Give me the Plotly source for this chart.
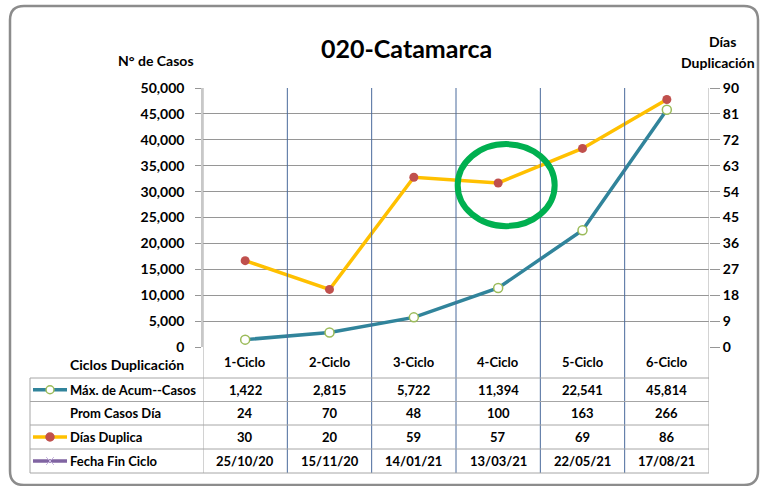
import plotly.graph_objects as go

# ── Data ─────────────────────────────────────────────────────────────────────
ciclos        = ["1-Ciclo", "2-Ciclo", "3-Ciclo", "4-Ciclo", "5-Ciclo", "6-Ciclo"]
max_casos     = [1422, 2815, 5722, 11394, 22541, 45814]
prom_casos    = [24, 70, 48, 100, 163, 266]
dias_duplica  = [30, 20, 59, 57, 69, 86]
fecha_fin     = ["25/10/20", "15/11/20", "14/01/21", "13/03/21", "22/05/21", "17/08/21"]

left_ticks  = list(range(0, 50001, 5000))
right_ticks = list(range(0, 91, 9))

# ── Style ────────────────────────────────────────────────────────────────────
TEAL   = "#31849B"
ORANGE = "#FFC000"
RED    = "#C0504D"
GREEN  = "#9BBB59"
PURPLE = "#8064A2"
GRID   = "#969696"
VGRID  = "#4a6a9c"
TABLE  = "#a6a6a6"
FONT   = "Lato"

# plot area in pixels (760 x 486 page)
L, R, T, B = 203, 709, 88, 347
W, H = R - L, B - T


def px(x):
    return (x - L) / W


def py(y):
    return (B - y) / H


def text(s, x, y, size=13, xanchor="center", xref="paper"):
    return dict(text=f"<b>{s}</b>", xref=xref, yref="paper", x=x, y=y,
                xanchor=xanchor, yanchor="middle", showarrow=False,
                font=dict(size=size), align="center")


fig = go.Figure()

fig.add_trace(go.Scatter(
    x=ciclos, y=max_casos, name="Máx. de Acum--Casos",
    mode="lines+markers",
    line=dict(color=TEAL, width=3.5),
    marker=dict(symbol="circle", size=9, color="white", line=dict(color=GREEN, width=1.5)),
    yaxis="y",
))
fig.add_trace(go.Scatter(
    x=ciclos, y=dias_duplica, name="Días Duplica",
    mode="lines+markers",
    line=dict(color=ORANGE, width=3.5),
    marker=dict(symbol="circle", size=9, color=RED),
    yaxis="y2",
))

shapes = []
ann = []

# vertical grid lines at category borders, running down through the table
row_lines = [378, 401.5, 425, 449, 473]
for i in range(len(ciclos) + 1):
    shapes.append(dict(type="line", xref="x", yref="paper",
                       x0=i - 0.5, x1=i - 0.5, y0=py(row_lines[-1]), y1=1,
                       line=dict(color=VGRID if 0 < i < len(ciclos) else TABLE, width=1)))

# table horizontal lines + left border
for yl in row_lines:
    shapes.append(dict(type="line", xref="paper", yref="paper",
                       x0=px(30), x1=px(R), y0=py(yl), y1=py(yl),
                       line=dict(color=TABLE, width=1)))
shapes.append(dict(type="line", xref="paper", yref="paper",
                   x0=px(30), x1=px(30), y0=py(row_lines[0]), y1=py(row_lines[-1]),
                   line=dict(color=TABLE, width=1)))

# header row
row_centers = [(row_lines[i] + row_lines[i + 1]) / 2 for i in range(4)]
ann.append(text("Ciclos Duplicación", px(68), py(364), size=14, xanchor="left"))
for c in ciclos:
    ann.append(text(c, c, py(362), xref="x"))

row_labels = ["Máx. de Acum--Casos", "Prom Casos Día", "Días Duplica", "Fecha Fin Ciclo"]
row_values = [
    [f"{v:,}" for v in max_casos],
    [f"{v:,}" for v in prom_casos],
    [str(v) for v in dias_duplica],
    fecha_fin,
]
for lab, vals, yc in zip(row_labels, row_values, row_centers):
    ann.append(text(lab, px(68), py(yc), xanchor="left"))
    for c, v in zip(ciclos, vals):
        ann.append(text(v, c, py(yc), xref="x"))


# legend keys in the table
def key_line(yc, color):
    shapes.append(dict(type="line", xref="paper", yref="paper",
                       x0=px(33), x1=px(67), y0=py(yc), y1=py(yc),
                       line=dict(color=color, width=3.5)))


def key_dot(yc, fill, edge, r=4):
    shapes.append(dict(type="circle", xref="paper", yref="paper",
                       x0=px(50 - r), x1=px(50 + r), y0=py(yc + r), y1=py(yc - r),
                       fillcolor=fill, line=dict(color=edge, width=1.5)))


key_line(row_centers[0], TEAL)
key_dot(row_centers[0], "white", GREEN)
key_line(row_centers[2], ORANGE)
key_dot(row_centers[2], RED, RED)
key_line(row_centers[3], PURPLE)
for dx in (-1, 1):
    shapes.append(dict(type="line", xref="paper", yref="paper",
                       x0=px(46), x1=px(54),
                       y0=py(row_centers[3] - 4 * dx), y1=py(row_centers[3] + 4 * dx),
                       line=dict(color="#c9b8e0", width=1)))

# outer rounded frame
fx0, fy0, fx1, fy1, rr = 10, 6, 758, 485, 14
path = (f"M {px(fx0)},{py(fy0 + rr)} Q {px(fx0)},{py(fy0)} {px(fx0 + rr)},{py(fy0)} "
        f"L {px(fx1 - rr)},{py(fy0)} Q {px(fx1)},{py(fy0)} {px(fx1)},{py(fy0 + rr)} "
        f"L {px(fx1)},{py(fy1 - rr)} Q {px(fx1)},{py(fy1)} {px(fx1 - rr)},{py(fy1)} "
        f"L {px(fx0 + rr)},{py(fy1)} Q {px(fx0)},{py(fy1)} {px(fx0)},{py(fy1 - rr)} Z")
shapes.append(dict(type="path", xref="paper", yref="paper", path=path,
                   line=dict(color="#8c8c8c", width=2.5)))

# green highlight around 4-Ciclo
shapes.append(dict(type="circle", xref="x", yref="y2",
                   x0=2.52, x1=3.67, y0=42, y1=70.5,
                   line=dict(color="#00B050", width=6)))

# titles
ann.append(text("020-Catamarca", px(406), py(48), size=25))
ann.append(text("N° de Casos", px(156), py(60), size=14))
ann.append(text("Días", px(722), py(42), size=14))
ann.append(text("Duplicación", px(718), py(63), size=14))

fig.update_layout(
    width=760, height=486,
    margin=dict(l=L, r=760 - R, t=T, b=486 - B),
    paper_bgcolor="white", plot_bgcolor="white",
    font=dict(family=FONT, color="black", size=13),
    showlegend=False,
    xaxis=dict(type="category", range=[-0.5, 5.5], showticklabels=False,
               showgrid=False, zeroline=False, ticks="", showline=False),
    yaxis=dict(range=[0, 50000], tickvals=left_ticks,
               ticktext=[f"<b>{v:,}</b>" for v in left_ticks],
               tickfont=dict(size=14),
               showgrid=True, gridcolor=GRID, gridwidth=1, zeroline=False,
               showline=True, linecolor="#c8c8c8", linewidth=1.5,
               ticks="outside", ticklen=6, tickcolor=GRID, ticklabelstandoff=8),
    yaxis2=dict(range=[0, 90], tickvals=right_ticks,
                ticktext=[f"<b>{v}</b>" for v in right_ticks],
                tickfont=dict(size=14),
                overlaying="y", side="right", anchor="x", showgrid=False,
                zeroline=False, showline=False, ticks="outside", ticklen=10,
                tickcolor=GRID),
    shapes=shapes,
    annotations=ann,
)

fig.write_html("out.html", config={"displayModeBar": False},
               post_script="document.body.style.margin='0';")
